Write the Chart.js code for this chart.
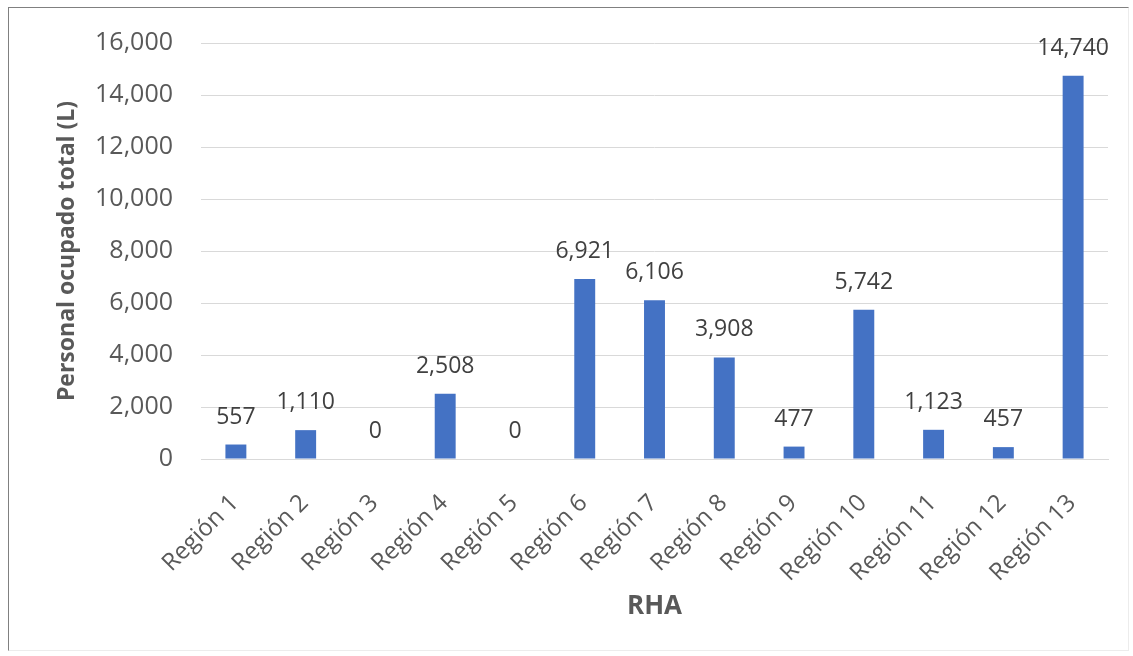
<!DOCTYPE html>
<html>
<head>
<meta charset="utf-8">
<script src="https://cdn.jsdelivr.net/npm/chart.js@4.4.1/dist/chart.umd.min.js"></script>
<style>
  html, body { margin: 0; padding: 0; background: #fff; }
  #wrap { position: absolute; left: 0; top: 0; width: 1133px; height: 656px; }
  #frame { position: absolute; left: 8px; top: 7px; width: 1121px; height: 644px; box-sizing: border-box;
           border-left: 1px solid #808080; border-top: 1px solid #808080;
           border-right: 1px solid #ececec; border-bottom: 1px solid #ececec; pointer-events: none; }
</style>
</head>
<body>
<div id="wrap">
  <canvas id="chart" width="1133" height="656"></canvas>
  <div id="frame"></div>
</div>
<script>
const regions = ["Región 1", "Región 2", "Región 3", "Región 4", "Región 5", "Región 6", "Región 7",
  "Región 8", "Región 9", "Región 10", "Región 11", "Región 12", "Región 13"];
const personal = [557, 1110, 0, 2508, 0, 6921, 6106, 3908, 477, 5742, 1123, 457, 14740];
const yTicks = [0, 2000, 4000, 6000, 8000, 10000, 12000, 14000, 16000];

const FONT = "'Open Sans', sans-serif";
const GRAY = "#595959";

// value labels above each bar
const barLabels = {
  id: "barLabels",
  afterDatasetsDraw(chart) {
    const ctx = chart.ctx;
    const meta = chart.getDatasetMeta(0);
    ctx.save();
    ctx.font = "23px " + FONT;
    ctx.fillStyle = "#404040";
    ctx.textAlign = "center";
    ctx.textBaseline = "alphabetic";
    meta.data.forEach((bar, i) => {
      ctx.fillText(personal[i].toLocaleString("en-US"), bar.x, bar.y - 21);
    });
    ctx.restore();
  }
};

new Chart(document.getElementById("chart"), {
  type: "bar",
  data: {
    labels: regions,
    datasets: [{
      data: personal,
      backgroundColor: "#4472C4",
      barPercentage: 0.3,
      categoryPercentage: 1
    }]
  },
  options: {
    responsive: false,
    animation: false,
    layout: { padding: { left: 50, right: 25, top: 41, bottom: 30 } },
    plugins: { legend: { display: false }, tooltip: { enabled: false } },
    scales: {
      x: {
        grid: { display: false },
        border: { color: "#d9d9d9" },
        ticks: {
          color: GRAY,
          font: { family: FONT, size: 24 },
          minRotation: 45,
          maxRotation: 45,
          padding: 22,
          labelOffset: -1
        },
        title: {
          display: true,
          text: "RHA",
          color: GRAY,
          font: { family: FONT, size: 26, weight: "bold" }
        },
        afterFit(scale) { scale.height = 167; }
      },
      y: {
        min: 0,
        max: 16000,
        afterBuildTicks(scale) { scale.ticks = yTicks.map(v => ({ value: v })); },
        grid: { color: "#d9d9d9", drawTicks: false },
        border: { display: false },
        ticks: {
          color: GRAY,
          font: { family: FONT, size: 25 },
          padding: 28,
          callback: v => v.toLocaleString("en-US")
        },
        title: {
          display: true,
          text: "Personal ocupado total (L)",
          color: GRAY,
          font: { family: FONT, size: 23, weight: "bold" }
        },
        afterFit(scale) { scale.width = 151; }
      }
    }
  },
  plugins: [barLabels]
});
</script>
</body>
</html>
